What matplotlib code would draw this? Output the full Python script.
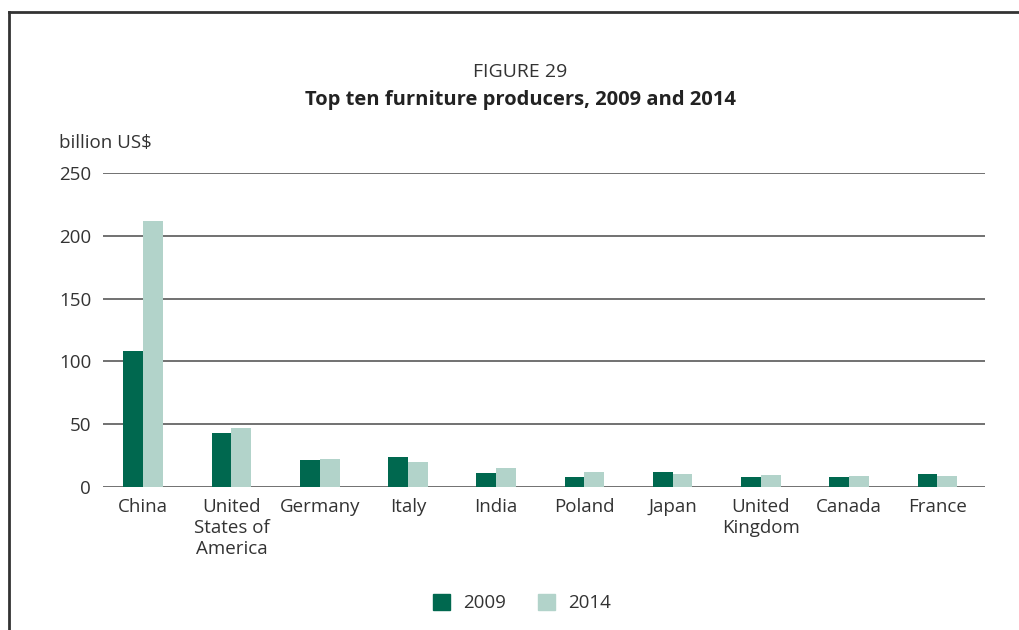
import matplotlib
matplotlib.use("Agg")
import matplotlib.pyplot as plt
from matplotlib.patches import Rectangle
from matplotlib.lines import Line2D
import numpy as np

plt.rcParams['font.family'] = ['Open Sans', 'DejaVu Sans']

countries = ["China", "United\nStates of\nAmerica", "Germany", "Italy", "India",
             "Poland", "Japan", "United\nKingdom", "Canada", "France"]
values_2009 = [108.5, 42.7, 21.5, 23.7, 10.9, 8.2, 11.7, 8.0, 8.0, 10.4]
values_2014 = [211.8, 46.7, 22.3, 20.0, 14.9, 12.0, 10.1, 9.6, 8.8, 8.8]
series_labels = ["2009", "2014"]
yticks = [0, 50, 100, 150, 200, 250]

dark_green = "#00684F"
light_green = "#B2D3CA"
text_col = "#333333"
grid_col = "#4a4a4a"
fs = 13.5

fig = plt.figure(figsize=(10.2, 6.3), dpi=100)

# Outer frame (top and left edges)
fig.add_artist(Line2D([0.009, 0.009], [0.0, 0.981], transform=fig.transFigure,
                      color="#333333", lw=2))
fig.add_artist(Line2D([0.009, 1.0], [0.981, 0.981], transform=fig.transFigure,
                      color="#333333", lw=2))

ax = fig.add_axes([0.101, 0.227, 0.8647, 0.4984])
x = np.arange(len(countries))
w = 0.225
ax.bar(x - w / 2, values_2009, width=w, color=dark_green, zorder=3)
ax.bar(x + w / 2, values_2014, width=w, color=light_green, zorder=3)

ax.set_ylim(0, 250)
ax.set_xlim(-0.455, 9.54)
ax.set_yticks(yticks)
ax.set_yticklabels([str(t) for t in yticks], fontsize=fs, color=text_col)
ax.yaxis.grid(True, color=grid_col, lw=1.1, zorder=0)
ax.tick_params(axis='y', length=0, pad=8.5)
ax.set_xticks(x)
ax.set_xticklabels(countries, fontsize=fs, color=text_col, linespacing=1.2)
ax.tick_params(axis='x', length=0, pad=8)
for s in ax.spines.values():
    s.set_visible(False)

fig.text(0.058, 0.758, "billion US$", fontsize=fs, color=text_col, ha='left', va='bottom')

fig.text(0.51, 0.886, "FIGURE 29", fontsize=14, color=text_col, ha='center', va='center')
fig.text(0.51, 0.841, "Top ten furniture producers, 2009 and 2014", fontsize=14.5,
         fontweight='bold', color="#222222", ha='center', va='center')

# Legend
for px, label, col in [(433, series_labels[0], dark_green), (538, series_labels[1], light_green)]:
    fig.add_artist(Rectangle((px / 1020, 1 - 610 / 630), 17 / 1020, 16 / 630,
                             transform=fig.transFigure, color=col))
    fig.text((px + 30) / 1020, 1 - 602.5 / 630, label, fontsize=fs, color=text_col,
             ha='left', va='center')

fig.savefig("out.png", dpi=100)
